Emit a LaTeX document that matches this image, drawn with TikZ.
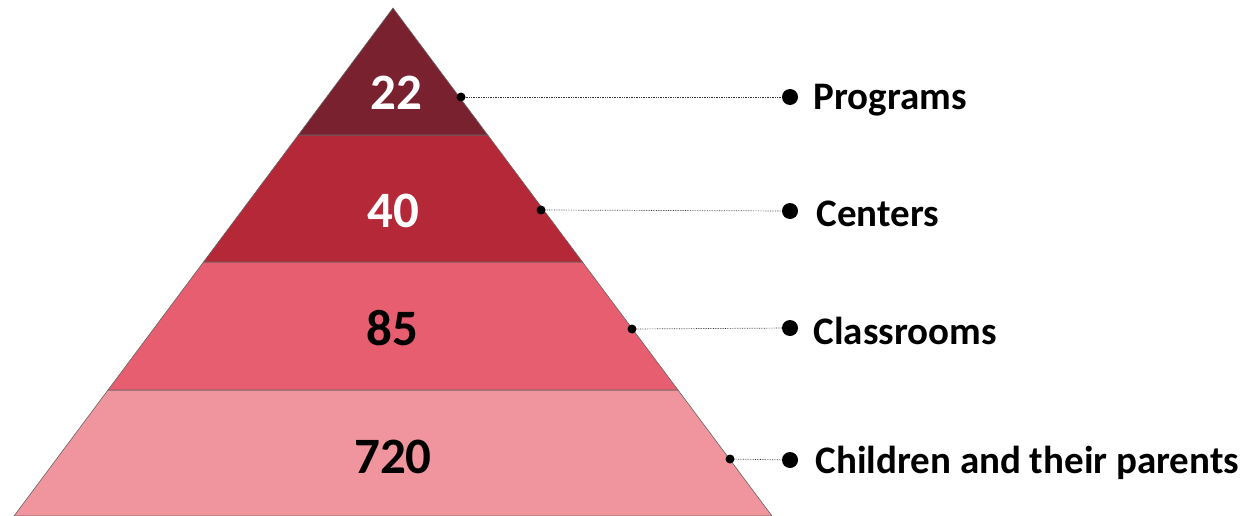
\documentclass[tikz,border=0pt]{standalone}
\usepackage{fontspec}
\setmainfont{Carlito}
\definecolor{tierone}{HTML}{7A2130}
\definecolor{tiertwo}{HTML}{B52837}
\definecolor{tierthree}{HTML}{E65E70}
\definecolor{tierfour}{HTML}{F0959D}
\tikzset{
  tier/.style = {draw = black!60, line width = 0.6},
  count/.style = {font = \bfseries\fontsize{51}{51}\selectfont},
  caption/.style = {anchor = west, font = \bfseries\fontsize{39}{39}\selectfont},
  leader/.style = {black!80, densely dotted, line width = 0.7},
  pin/.style = {circle, fill = black, inner sep = 0pt, minimum size = 9},
  bullet/.style = {circle, fill = black, inner sep = 0pt, minimum size = 16}
}
\begin{document}
\begin{tikzpicture}[x = 1pt, y = -1pt]
\useasboundingbox (0, 0) rectangle (1249, 516);
% pyramid tiers, bottom up
\fill [tierfour, tier] (108, 390) -- (678, 390) -- (772, 516) -- (14, 516) -- cycle;
\fill [tierthree, tier] (203.5, 262) -- (582.5, 262) -- (678, 390) -- (108, 390) -- cycle;
\fill [tiertwo, tier] (298.3, 135) -- (487.7, 135) -- (582.5, 262) -- (203.5, 262) -- cycle;
\fill [tierone, tier] (393, 8) -- (487.7, 135) -- (298.3, 135) -- cycle;
% counts
\node [count, white] (programs) at (396, 93) {22};
\node [count, white] (centers) at (393, 211) {40};
\node [count] (classrooms) at (392, 328) {85};
\node [count] (children) at (393, 457) {720};
% pins on the right edge and bullets
\node [pin] (p1) at (461, 97) {};
\node [pin] (p2) at (541, 210) {};
\node [pin] (p3) at (632, 329) {};
\node [pin] (p4) at (730, 459) {};
\node [bullet] (b1) at (790, 97) {};
\node [bullet] (b2) at (790, 211) {};
\node [bullet] (b3) at (790, 328) {};
\node [bullet] (b4) at (790, 460) {};
\draw [leader] (p1) -- (b1);
\draw [leader] (p2) -- (b2);
\draw [leader] (p3) -- (b3);
\draw [leader] (p4) -- (b4);
% captions
\node [caption] at (810, 100) {Programs};
\node [caption] at (813, 214) {Centers};
\node [caption] at (810, 331) {Classrooms};
\node [caption] at (812, 463) {Children and their parents};
\end{tikzpicture}
\end{document}
